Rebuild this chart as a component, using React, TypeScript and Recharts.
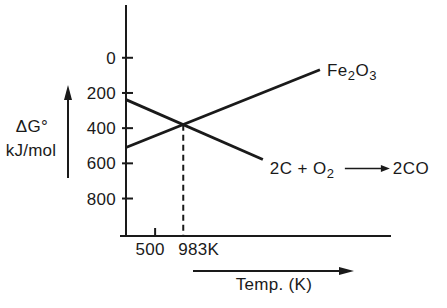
import { LineChart, Line, XAxis, YAxis, ReferenceLine } from "recharts";

// Ellingham-style schematic: ΔG° (shown as magnitude, axis reversed) vs temperature
const fe2o3Temps = [0, 3330];
const fe2o3Values = [510, 68];
const coTemps = [0, 2350];
const coValues = [238, 578];
const crossTemp = 983;
const crossValue = 380;
const yTicks = [0, 200, 400, 600, 800];
const xTicks = [500, 983];
const xTickLabels: Record<number, string> = { 500: "500", 983: "983K" };

const fe2o3Data = fe2o3Temps.map((t, i) => ({ t, g: fe2o3Values[i] }));
const coData = coTemps.map((t, i) => ({ t, g: coValues[i] }));

const INK = "#1a1a1a";
const FONT = "'Liberation Sans', Arial, sans-serif";
const FS = 17;

const YTick = (props: any) => {
  const { x, y, payload } = props;
  return (
    <g>
      <line x1={x - 4} x2={x + 7} y1={y} y2={y} stroke={INK} strokeWidth={2} />
      <text x={x - 10} y={y + 6} textAnchor="end" fontSize={FS} fill={INK} fontFamily={FONT} letterSpacing={0.3}>
        {payload.value}
      </text>
    </g>
  );
};

const XTick = (props: any) => {
  const { x, y, payload } = props;
  const is983 = payload.value === crossTemp;
  return (
    <g>
      {!is983 && <line x1={x} x2={x} y1={y - 8} y2={y} stroke={INK} strokeWidth={2} />}
      <text
        x={x - 5}
        y={y + 19}
        textAnchor={is983 ? "start" : "middle"}
        fontSize={FS}
        fill={INK}
        fontFamily={FONT}
        letterSpacing={0.3}
      >
        {xTickLabels[payload.value]}
      </text>
    </g>
  );
};

const FeLabel = (props: any) => {
  const { x, y, index } = props;
  if (index !== fe2o3Data.length - 1) return null;
  return (
    <text x={x + 7} y={y + 6} fontSize={FS} fill={INK} fontFamily={FONT} letterSpacing={0.5}>
      Fe<tspan fontSize={13} dy={4}>2</tspan>
      <tspan dy={-4}>O</tspan>
      <tspan fontSize={13} dy={4}>3</tspan>
    </text>
  );
};

const CoLabel = (props: any) => {
  const { x, y, index } = props;
  if (index !== coData.length - 1) return null;
  return (
    <g fontFamily={FONT} fill={INK} fontSize={FS}>
      <text x={x + 7} y={y + 15} letterSpacing={0.5}>
        2C<tspan dx={5}>+</tspan>
        <tspan dx={5}>O</tspan>
        <tspan fontSize={13} dy={4}>2</tspan>
      </text>
      <line x1={x + 82} x2={x + 120} y1={y + 9} y2={y + 9} stroke={INK} strokeWidth={1.5} />
      <polygon points={`${x + 127},${y + 9} ${x + 118},${y + 5.5} ${x + 118},${y + 12.5}`} fill={INK} />
      <text x={x + 130} y={y + 15} letterSpacing={0.5}>
        2CO
      </text>
    </g>
  );
};

export default function App() {
  return (
    <div style={{ position: "absolute", left: 0, top: 0, width: 447, height: 308, background: "#fff" }}>
      <LineChart width={447} height={308} margin={{ top: 5, right: 56, bottom: 42, left: 66 }}>
        <XAxis
          type="number"
          dataKey="t"
          domain={[0, 4550]}
          ticks={xTicks}
          interval={0}
          tick={<XTick />}
          tickSize={0}
          tickMargin={0}
          height={30}
          axisLine={{ stroke: INK, strokeWidth: 2 }}
          tickLine={false}
          allowDataOverflow
        />
        <YAxis
          type="number"
          dataKey="g"
          domain={[-300, 1013]}
          reversed
          ticks={yTicks}
          interval={0}
          tick={<YTick />}
          tickSize={0}
          tickMargin={0}
          width={60}
          axisLine={{ stroke: INK, strokeWidth: 2 }}
          tickLine={false}
          allowDataOverflow
        />
        <ReferenceLine
          segment={[
            { x: crossTemp, y: crossValue },
            { x: crossTemp, y: 1013 },
          ]}
          stroke={INK}
          strokeWidth={2}
          strokeDasharray="6 4"
        />
        <Line
          data={fe2o3Data}
          dataKey="g"
          stroke={INK}
          strokeWidth={2.8}
          dot={false}
          isAnimationActive={false}
          label={<FeLabel />}
        />
        <Line
          data={coData}
          dataKey="g"
          stroke={INK}
          strokeWidth={2.8}
          dot={false}
          isAnimationActive={false}
          label={<CoLabel />}
        />
      </LineChart>
      <svg
        width={447}
        height={308}
        style={{ position: "absolute", left: 0, top: 0, pointerEvents: "none" }}
        fontFamily={FONT}
        fill={INK}
      >
        <line x1={120} x2={127} y1={236} y2={236} stroke={INK} strokeWidth={2} />
        <text x={32} y={132} textAnchor="middle" fontSize={FS} letterSpacing={0.3}>
          ΔG°
        </text>
        <text x={31} y={156} textAnchor="middle" fontSize={FS} letterSpacing={0.2}>
          kJ/mol
        </text>
        <line x1={68} x2={68} y1={98} y2={178} stroke={INK} strokeWidth={2} />
        <polygon points="68,85 64,100 72,100" fill={INK} />
        <line x1={193} x2={342} y1={271} y2={271} stroke={INK} strokeWidth={2} />
        <polygon points="354,271 339,267 339,275" fill={INK} />
        <text x={274} y={290} textAnchor="middle" fontSize={FS} letterSpacing={0.3}>
          Temp. (K)
        </text>
      </svg>
    </div>
  );
}
